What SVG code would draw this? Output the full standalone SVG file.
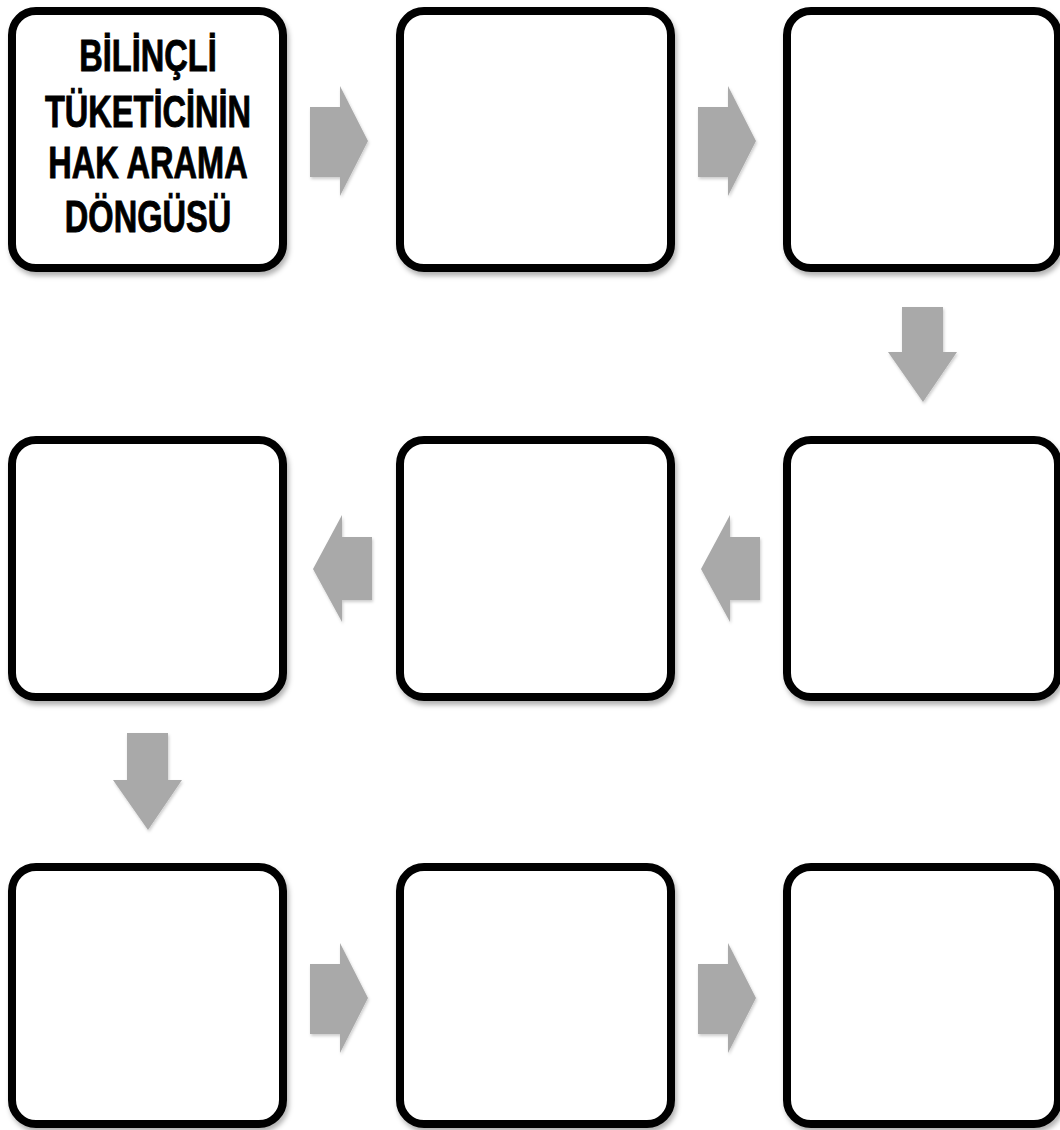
<svg xmlns="http://www.w3.org/2000/svg" width="1060" height="1130" viewBox="0 0 1060 1130">
<defs>
<filter id="sh" x="-10%" y="-10%" width="130%" height="130%">
<feDropShadow dx="2" dy="4" stdDeviation="2.5" flood-color="#000" flood-opacity="0.3"/>
</filter>
<filter id="ash" x="-20%" y="-20%" width="150%" height="150%">
<feDropShadow dx="1" dy="2" stdDeviation="1.5" flood-color="#000" flood-opacity="0.2"/>
</filter>
</defs>
<style>
.box{fill:#fff;stroke:#000;stroke-width:8;filter:url(#sh)}
.arr{fill:#a9a9a9;filter:url(#ash)}
.t{font-family:"Liberation Sans",Arial,sans-serif;font-weight:bold;font-size:44px;fill:#000;stroke:#000;stroke-width:0.9;text-anchor:middle}
</style>
<rect width="1060" height="1130" fill="#fff"/>
<g id="connectors">
<polygon class="arr" points="310,107 340,107 340,86 368,141 340,196 340,177 310,177"/>
<polygon class="arr" points="698,107 728,107 728,86 756,141 728,196 728,177 698,177"/>
<polygon class="arr" points="902,307 943,307 943,352 957,352 923,402 888,352 902,352"/>
<polygon class="arr" points="760,537 730,537 730,515 701,569 730,622 730,600 760,600"/>
<polygon class="arr" points="372,537 342,537 342,515 313,569 342,622 342,600 372,600"/>
<polygon class="arr" points="127,733 168,733 168,780 182,780 148,830 113,780 127,780"/>
<polygon class="arr" points="310,964 340,964 340,943 368,998 340,1053 340,1034 310,1034"/>
<polygon class="arr" points="698,964 728,964 728,943 756,998 728,1053 728,1034 698,1034"/>
</g>
<g id="n1">
<rect class="box" x="12" y="11" width="271" height="257" rx="24"/>
<g transform="translate(148,0) scale(0.74,1)">
<text class="t" x="0" y="71">BİLİNÇLİ</text>
<text class="t" x="0" y="127">TÜKETİCİNİN</text>
<text class="t" x="0" y="178">HAK ARAMA</text>
<text class="t" x="0" y="232">DÖNGÜSÜ</text>
</g>
</g>
<g id="n2"><rect class="box" x="400" y="11" width="271" height="257" rx="24"/></g>
<g id="n3"><rect class="box" x="787" y="11" width="271" height="257" rx="24"/></g>
<g id="n4"><rect class="box" x="787" y="440" width="271" height="257" rx="24"/></g>
<g id="n5"><rect class="box" x="400" y="440" width="271" height="257" rx="24"/></g>
<g id="n6"><rect class="box" x="12" y="440" width="271" height="257" rx="24"/></g>
<g id="n7"><rect class="box" x="12" y="867" width="271" height="257" rx="24"/></g>
<g id="n8"><rect class="box" x="400" y="867" width="271" height="257" rx="24"/></g>
<g id="n9"><rect class="box" x="787" y="867" width="271" height="257" rx="24"/></g>
</svg>
